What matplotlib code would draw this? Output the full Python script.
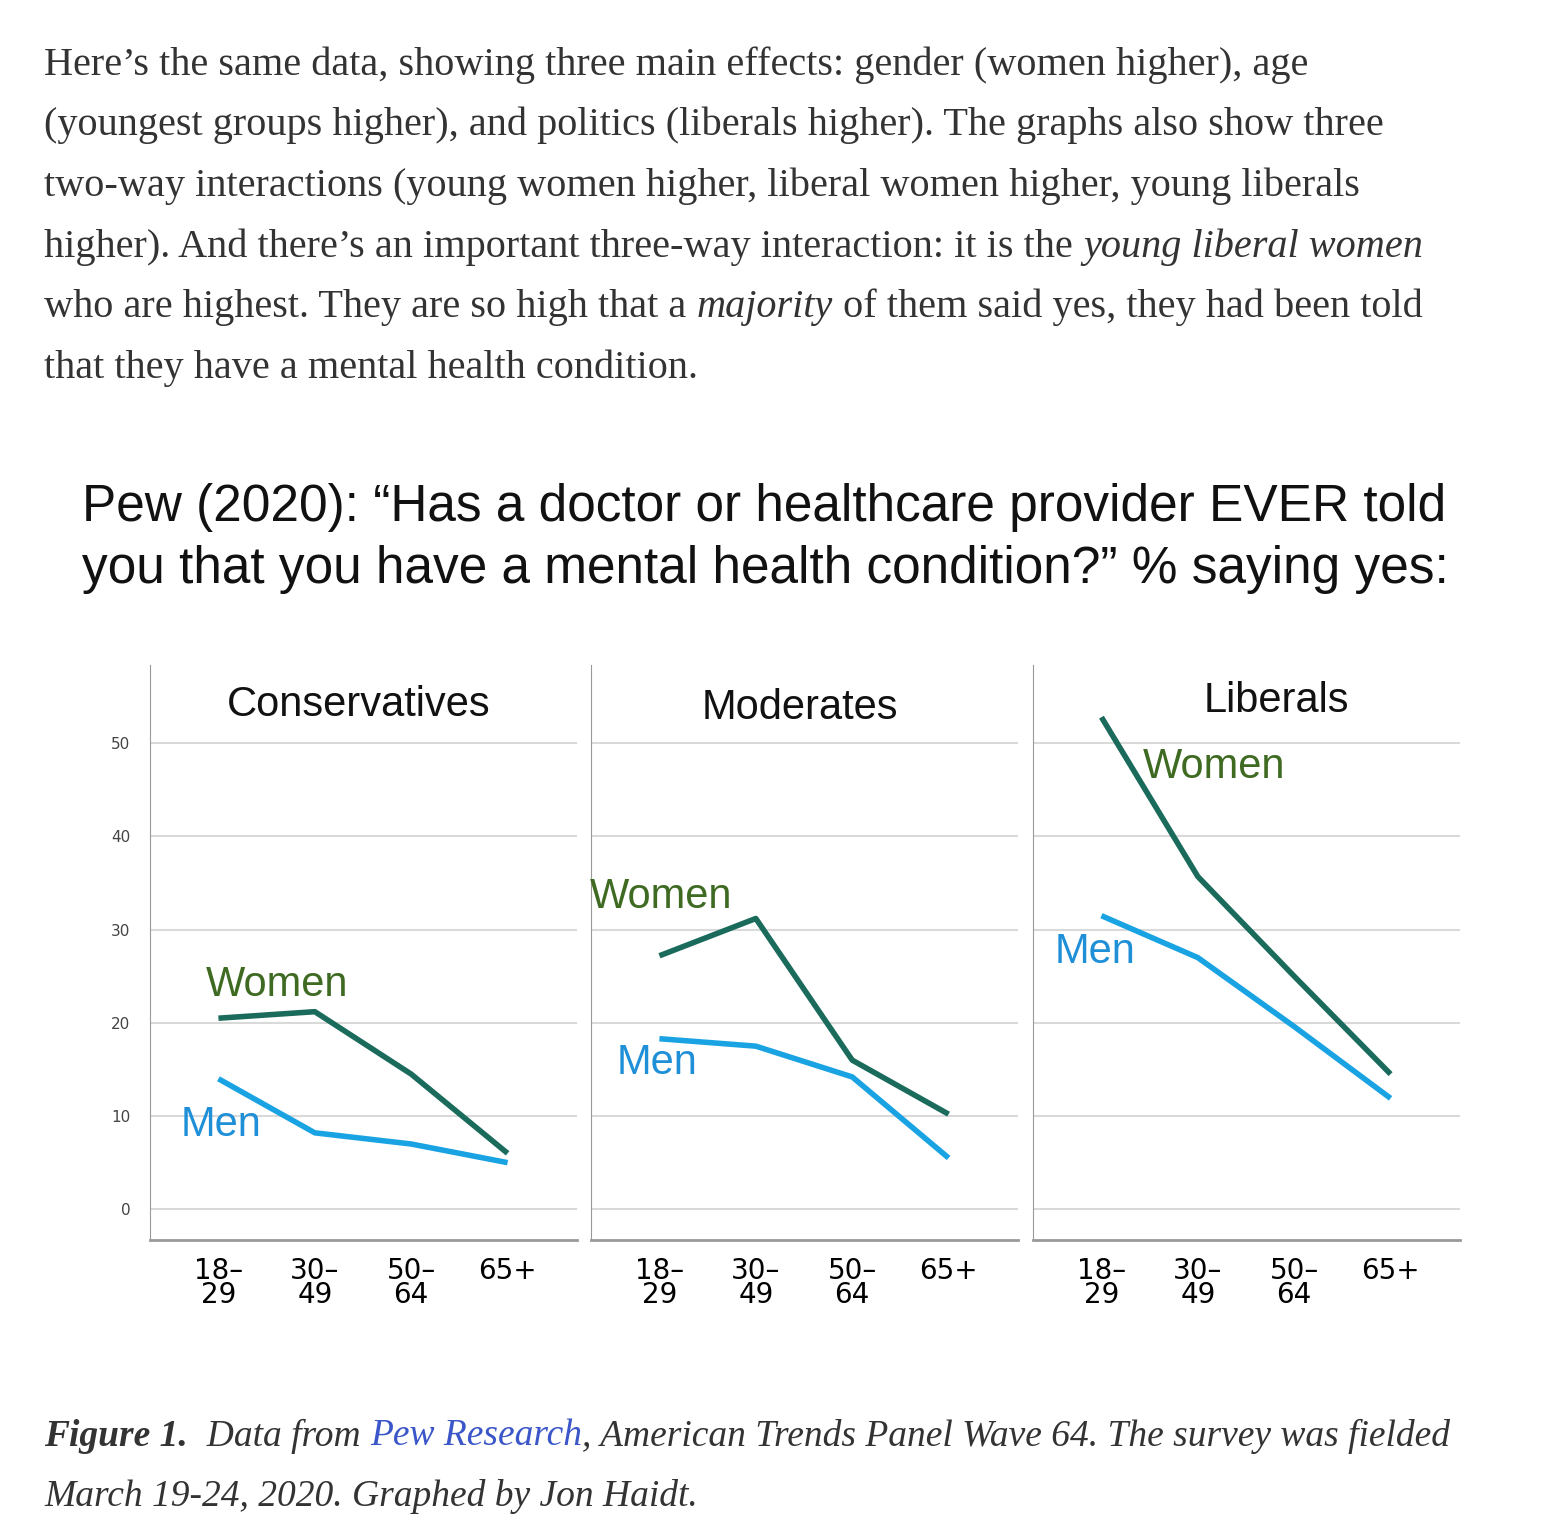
import matplotlib
matplotlib.use("Agg")
import matplotlib.pyplot as plt

W, H = 1564, 1538
ages = ["18–\n29", "30–\n49", "50–\n64", "65+"]
panels = ["Conservatives", "Moderates", "Liberals"]
women = [[20.5, 21.2, 14.5, 6.0], [27.2, 31.2, 16.0, 10.2], [52.8, 35.7, 25.0, 14.5]]
men = [[14.0, 8.2, 7.0, 5.0], [18.3, 17.5, 14.2, 5.5], [31.5, 27.0, 19.6, 11.9]]
yticks = [0, 10, 20, 30, 40, 50]

WC, MC = "#1b6b5c", "#1aa3e3"
WT, MT = "#3e6a22", "#1f90d8"

fig = plt.figure(figsize=(W/100, H/100), dpi=100)
fig.patch.set_facecolor("white")

def fx(x): return x / W
def fy(y): return 1 - y / H

serif = "Liberation Serif"
para = [
    [("Here’s the same data, showing three main effects: gender (women higher), age", "normal")],
    [("(youngest groups higher), and politics (liberals higher). The graphs also show three", "normal")],
    [("two-way interactions (young women higher, liberal women higher, young liberals", "normal")],
    [("higher). And there’s an important three-way interaction: it is the ", "normal"), ("young liberal women", "italic")],
    [("who are highest. They are so high that a ", "normal"), ("majority", "italic"), (" of them said yes, they had been told", "normal")],
    [("that they have a mental health condition.", "normal")],
]
fig.canvas.draw()
r = fig.canvas.get_renderer()

def chain(pieces, y, size):
    x = 44
    for txt, style, weight, color in pieces:
        t = fig.text(fx(x), fy(y), txt, fontsize=size, family=serif, style=style,
                     weight=weight, color=color, va="center", ha="left")
        x += t.get_window_extent(renderer=r).width

for i, line in enumerate(para):
    chain([(t, s, "normal", "#333333") for t, s in line], 65 + i*60.6, 29)

fig.text(fx(82), fy(507), "Pew (2020): “Has a doctor or healthcare provider EVER told",
         fontsize=37, family="Liberation Sans", va="center", color="#111111")
fig.text(fx(82), fy(569), "you that you have a mental health condition?” % saying yes:",
         fontsize=37, family="Liberation Sans", va="center", color="#111111")

chain([("Figure 1.", "italic", "bold", "#333333"), ("  Data from ", "italic", "normal", "#333333"),
       ("Pew Research", "italic", "normal", "#3a56c8"),
       (", American Trends Panel Wave 64. The survey was fielded", "italic", "normal", "#333333")], 1436, 27)
chain([("March 19-24, 2020. Graphed by Jon Haidt.", "italic", "normal", "#333333")], 1497, 27)

lefts = [150, 591, 1033]
labels = [((206, 985), (181, 1125)), ((590, 897), (617, 1063)), ((1143, 767), (1055, 952))]
titley = [705, 708, 701]
for k in range(3):
    ax = fig.add_axes([fx(lefts[k]), fy(1240), 427/W, 575/H])
    ax.set_xlim(-0.71, 3.72)
    ax.set_ylim(-3.3, 58.4)
    for yv in yticks:
        ax.axhline(yv, color="#d9d9d9", lw=1.5, zorder=0)
    x = range(len(ages))
    ax.plot(x, women[k], color=WC, lw=4, solid_capstyle="butt")
    ax.plot(x, men[k], color=MC, lw=4, solid_capstyle="butt")
    for s in ["top", "right"]:
        ax.spines[s].set_visible(False)
    ax.spines["left"].set_color("#999999")
    ax.spines["bottom"].set_color("#999999")
    ax.spines["bottom"].set_linewidth(2)
    ax.set_xticks(list(x))
    ax.set_xticklabels(ages, fontsize=20, family="DejaVu Sans", linespacing=0.85)
    ax.tick_params(axis="x", length=0, pad=12)
    if k == 0:
        ax.set_yticks(yticks)
        ax.set_yticklabels([str(v) for v in yticks], fontsize=11, color="#444444")
        ax.tick_params(axis="y", length=0, pad=14)
    else:
        ax.set_yticks([])
    cx = lefts[k] + 427/2 - 5
    fig.text(fx(cx + (35 if k == 2 else 0)), fy(titley[k]), panels[k], fontsize=30,
             family="Liberation Sans", ha="center", va="center", color="#111111")
    (wx, wy), (mx, my) = labels[k]
    fig.text(fx(wx), fy(wy), "Women", fontsize=30, family="Liberation Sans", va="center", color=WT)
    fig.text(fx(mx), fy(my), "Men", fontsize=30, family="Liberation Sans", va="center", color=MT)

fig.savefig("out.png", dpi=100)
